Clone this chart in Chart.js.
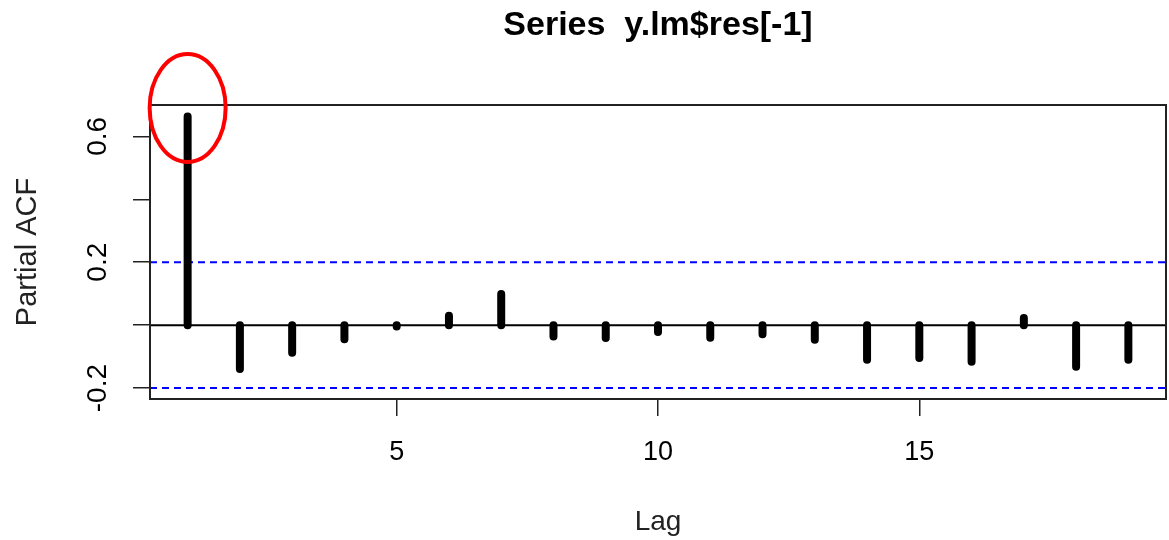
<!DOCTYPE html>
<html>
<head>
<meta charset="utf-8">
<title>Series y.lm$res[-1]</title>
<script src="https://cdn.jsdelivr.net/npm/chart.js@4.4.0/dist/chart.umd.min.js"></script>
<style>
    html, body { margin: 0; padding: 0; background: #ffffff; }
    #wrap { width: 1169px; height: 540px; }
</style>
</head>
<body>
<div id="wrap"><canvas id="pacfChart" width="1169" height="540"></canvas></div>
<script>
// PACF values, lag 1..19
const lags = [1, 2, 3, 4, 5, 6, 7, 8, 9, 10, 11, 12, 13, 14, 15, 16, 17, 18, 19];
const pacf = [0.663, -0.139, -0.088, -0.045, -0.004, 0.030, 0.099, -0.036, -0.041, -0.022,
              -0.040, -0.029, -0.046, -0.110, -0.104, -0.116, 0.023, -0.132, -0.110];
const clim = 0.2; // confidence band
const xTicks = [5, 10, 15];
const yTicks = [-0.2, 0, 0.2, 0.4, 0.6];
const yTickLabels = ['-0.2', '', '0.2', '', '0.6'];
const chartTitle = 'Series  y.lm$res[-1]';

// R style axis limits (range + 4%)
const xMin = 0.28, xMax = 19.72;
const yMin = -0.2346, yMax = 0.6996;

Chart.defaults.font.family = '"Liberation Sans", Arial, sans-serif';

// spikes: one broken line, null between lags
const spikePoints = [];
lags.forEach(function (lag, i) {
    spikePoints.push({ x: lag, y: 0 }, { x: lag, y: pacf[i] }, { x: lag, y: null });
});

const frameAndNotes = {
    id: 'frameAndNotes',
    afterDraw: function (chart) {
        const ctx = chart.ctx;
        const area = chart.chartArea;
        const xs = chart.scales.x, ys = chart.scales.y;
        ctx.save();
        // plot box
        ctx.strokeStyle = '#222';
        ctx.lineWidth = 2;
        ctx.strokeRect(area.left, area.top, area.right - area.left, area.bottom - area.top);
        // title
        ctx.fillStyle = '#000';
        ctx.font = 'bold 34px "Liberation Sans", Arial, sans-serif';
        ctx.textAlign = 'center';
        ctx.textBaseline = 'middle';
        ctx.fillText(chartTitle, (area.left + area.right) / 2, 26);
        // red ring round the first spike
        ctx.strokeStyle = '#ff0000';
        ctx.lineWidth = 4;
        ctx.beginPath();
        ctx.ellipse(xs.getPixelForValue(lags[0]), ys.getPixelForValue(0.69), 38, 54, 0, 0, Math.PI * 2);
        ctx.stroke();
        ctx.restore();
    }
};

const ctx = document.getElementById('pacfChart').getContext('2d');
const pacfChart = new Chart(ctx, {
    type: 'line',
    data: {
        datasets: [
            {
                label: 'PACF',
                data: spikePoints,
                borderColor: '#000',
                borderWidth: 8,
                borderCapStyle: 'round',
                borderJoinStyle: 'round',
                pointRadius: 0,
                spanGaps: false,
                tension: 0
            },
            {
                label: 'zero',
                data: [{ x: xMin, y: 0 }, { x: xMax, y: 0 }],
                borderColor: '#000',
                borderWidth: 2,
                pointRadius: 0
            },
            {
                label: 'upper',
                data: [{ x: xMin, y: clim }, { x: xMax, y: clim }],
                borderColor: '#0000ff',
                borderWidth: 2,
                borderDash: [7, 5],
                pointRadius: 0
            },
            {
                label: 'lower',
                data: [{ x: xMin, y: -clim }, { x: xMax, y: -clim }],
                borderColor: '#0000ff',
                borderWidth: 2,
                borderDash: [7, 5],
                pointRadius: 0
            }
        ]
    },
    options: {
        responsive: false,
        animation: false,
        devicePixelRatio: 1,
        layout: { padding: { left: 0, right: 3, top: 105, bottom: 0 } },
        plugins: {
            legend: { display: false },
            title: { display: false },
            tooltip: { enabled: false }
        },
        scales: {
            x: {
                type: 'linear',
                min: xMin,
                max: xMax,
                afterFit: function (s) { s.height = 141; },
                afterBuildTicks: function (s) { s.ticks = xTicks.map(function (v) { return { value: v }; }); },
                grid: { drawOnChartArea: false, drawTicks: true, tickLength: 17, color: '#222', lineWidth: 1.5 },
                border: { display: false },
                ticks: { font: { size: 27 }, color: '#000', padding: 20, maxRotation: 0, autoSkip: false },
                title: { display: true, text: 'Lag', font: { size: 28 }, color: '#222', padding: { top: 0, bottom: 1 } }
            },
            y: {
                type: 'linear',
                min: yMin,
                max: yMax,
                afterFit: function (s) { s.width = 150; },
                afterBuildTicks: function (s) { s.ticks = yTicks.map(function (v) { return { value: v }; }); },
                grid: { drawOnChartArea: false, drawTicks: true, tickLength: 17, color: '#222', lineWidth: 1.5 },
                border: { display: false },
                ticks: {
                    font: { size: 28 },
                    color: '#000',
                    padding: 11,
                    minRotation: 90,
                    maxRotation: 90,
                    crossAlign: 'center',
                    autoSkip: false,
                    callback: function (value) {
                        const i = yTicks.findIndex(function (t) { return Math.abs(t - value) < 1e-9; });
                        return i >= 0 ? yTickLabels[i] : '';
                    }
                },
                title: { display: true, text: 'Partial ACF', font: { size: 29 }, color: '#222', padding: { top: 11, bottom: 0 } }
            }
        }
    },
    plugins: [frameAndNotes]
});
</script>
</body>
</html>
